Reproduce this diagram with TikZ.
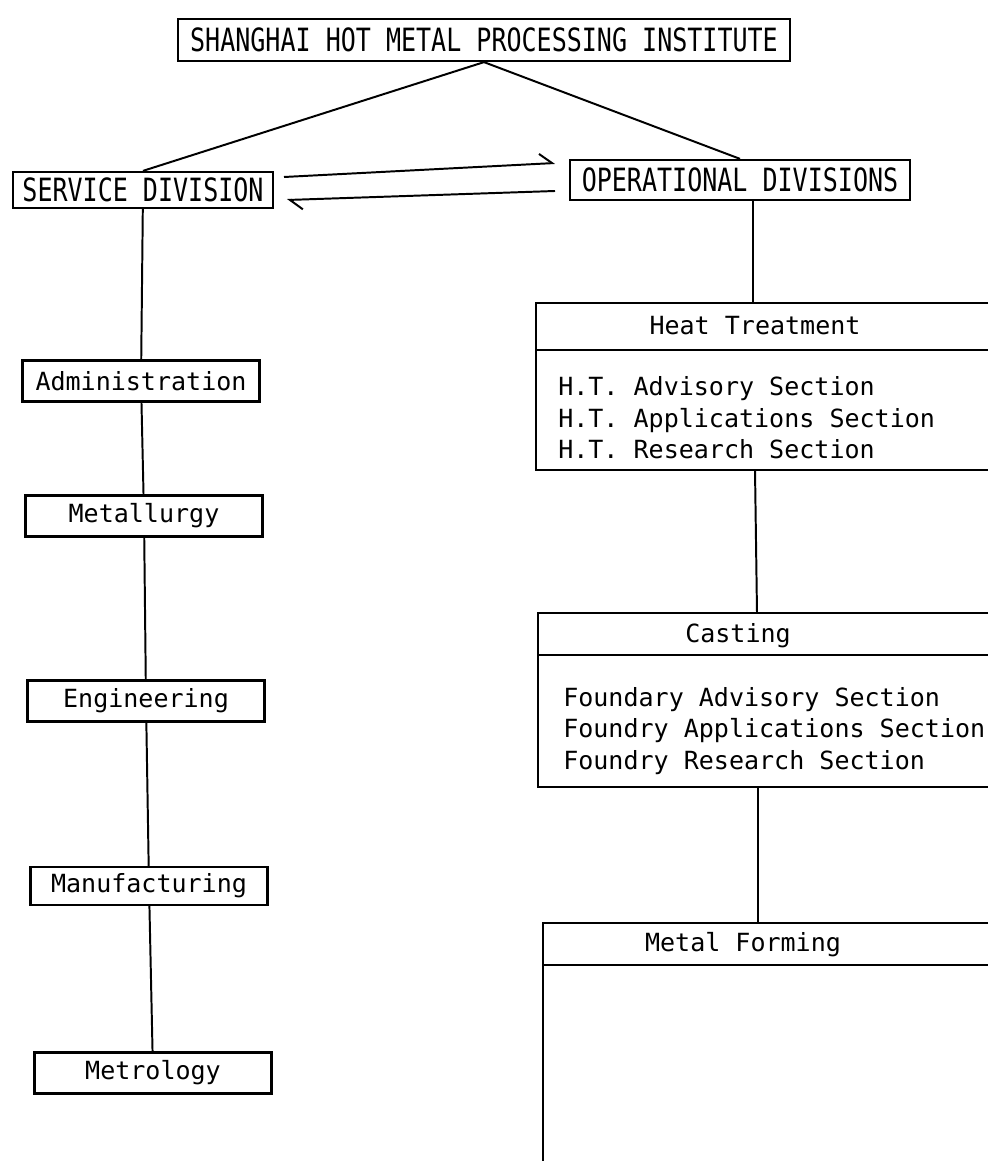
\documentclass[tikz,border=0pt]{standalone}
\usepackage{fontspec}
\usepackage{graphicx}
\newfontfamily\typefont{DejaVu Sans Mono}
\newcommand{\tallcaps}[1]{\scalebox{1}[1.28]{#1}}
\usetikzlibrary{arrows.meta}

\begin{document}
\begin{tikzpicture}[x=0.025cm,y=-0.025cm,
    every node/.style={font=\typefont\fontsize{17.8}{22.4}\selectfont},
    unit/.style={draw, line width=1.6pt, inner sep=0pt},
    lbox/.style={unit, minimum width=5.92cm, minimum height=1.03cm},
    list/.style={anchor=west, align=left, inner sep=0pt},
    link/.style={line width=1.4pt},
    panel/.style={line width=2pt},
    flow/.style={line width=1.4pt, -{Straight Barb[harpoon, length=9pt, width=14pt]}}]
                \useasboundingbox (0,0) rectangle (988,1161);

                \node[unit, minimum width=15.3cm, minimum height=1.05cm] (inst) at (484,40) {\tallcaps{SHANGHAI HOT METAL PROCESSING INSTITUTE}};
                \node[unit, minimum width=6.5cm, minimum height=0.9cm] (svc) at (143,190) {\tallcaps{SERVICE DIVISION}};
                \node[unit, minimum width=8.5cm, minimum height=1cm] (ops) at (740,180) {\tallcaps{OPERATIONAL DIVISIONS}};

                \draw[link] (inst.south) -- (svc.north);
                \draw[link] (inst.south) -- (ops.north);

                \coordinate (toOpsA) at (284,177);
                \coordinate (toOpsB) at (555,163);
                \coordinate (toSvcA) at (555,191);
                \coordinate (toSvcB) at (287,200);
                \draw[flow] (toOpsA) -- (toOpsB);
                \draw[flow] (toSvcA) -- (toSvcB);

                % service side
                \node[lbox] (adm) at (141,381) {Administration};
                \node[lbox] (mtl) at (144,516) {Metallurgy};
                \node[lbox] (eng) at (146,701) {Engineering};
                \node[lbox, minimum height=0.95cm] (mfg) at (149,886) {Manufacturing};
                \node[lbox] (mtr) at (153,1073) {Metrology};

                \draw[link] (svc) -- (adm);
                \draw[link] (adm) -- (mtl);
                \draw[link] (mtl) -- (eng);
                \draw[link] (eng) -- (mfg);
                \draw[link] (mfg) -- (mtr);

                % operational side
                \coordinate (htTop) at (753,303);
                \coordinate (htBot) at (755,470);
                \coordinate (caTop) at (757,613);
                \coordinate (caBot) at (758,787);
                \coordinate (mfTop) at (758,923);

                \draw[link] (ops.south -| htTop) -- (htTop);
                \draw[link] (htBot) -- (caTop);
                \draw[link] (caBot) -- (mfTop);

                \draw[panel] (988,303) -- (536,303) -- (536,470) -- (988,470);
                \draw[panel] (536,350) -- (988,350);
                \node (htHead) at (755,326) {Heat Treatment};
                \node[list] (htList) at (558,418) {H.T. Advisory Section\\H.T. Applications Section\\H.T. Research Section};

                \draw[panel] (988,613) -- (538,613) -- (538,787) -- (988,787);
                \draw[panel] (538,655) -- (988,655);
                \node (caHead) at (738,636) {Casting};
                \node[list] (caList) at (563,731) {Foundary Advisory Section\\Foundry Applications Section\\Foundry Research Section};

                \draw[panel] (988,923) -- (543,923) -- (543,1161);
                \draw[panel] (543,965) -- (988,965);
                \node (mfHead) at (743,945) {Metal Forming};
            \end{tikzpicture}
\end{document}
